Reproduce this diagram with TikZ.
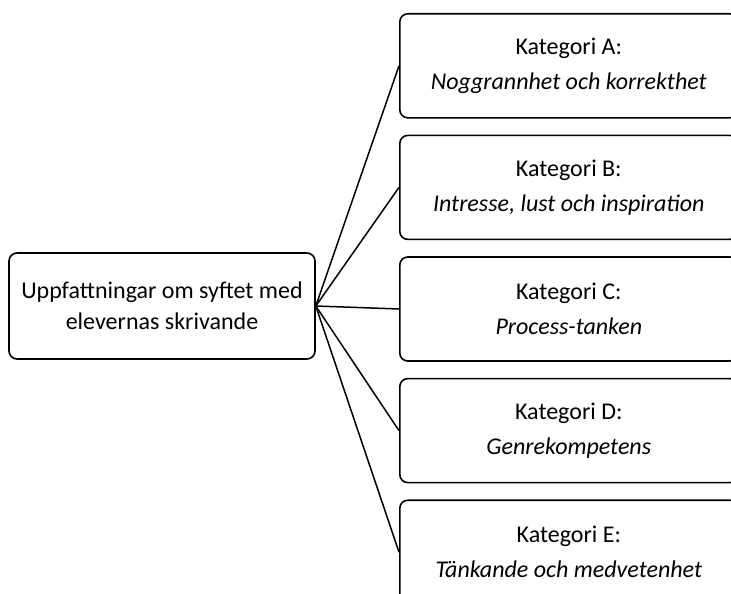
\documentclass[tikz,border=0pt]{standalone}
\usepackage{fontspec}
\setmainfont{Carlito}
\usetikzlibrary{positioning}

\begin{document}
\begin{tikzpicture}[x=1pt, y=-1pt,
  bx/.style={draw, line width=1.6pt, rounded corners=8pt, align=center,
             inner sep=0pt},
  kat/.style={bx, minimum width=338pt, minimum height=104pt,
              font=\fontsize{24}{35}\selectfont},
  ln/.style={line width=1.5pt}]
\useasboundingbox (0,0) rectangle (731,594);
\clip (0,0) rectangle (731,594);
\node[bx, minimum width=306pt, minimum height=106pt,
      font=\fontsize{24}{31}\selectfont] (u) at (162,306)
  {Uppfattningar om syftet med\\elevernas skrivande};
\node[kat, anchor=north west] (ka) at (399,13)
  {Kategori A:\\\textit{Noggrannhet och korrekthet}};
\node[kat, below=16pt of ka] (kb) {Kategori B:\\\textit{Intresse, lust och inspiration}};
\node[kat, below=16pt of kb] (kc) {Kategori C:\\\textit{Process-tanken}};
\node[kat, below=16pt of kc] (kd) {Kategori D:\\\textit{Genrekompetens}};
\node[kat, below=16pt of kd] (ke) {Kategori E:\\\textit{Tänkande och medvetenhet}};
\draw[ln] (u.east) -- (ka.west); \draw[ln] (u.east) -- (kb.west);
\draw[ln] (u.east) -- (kc.west); \draw[ln] (u.east) -- (kd.west);
\draw[ln] (u.east) -- (ke.west);
\end{tikzpicture}
\end{document}
